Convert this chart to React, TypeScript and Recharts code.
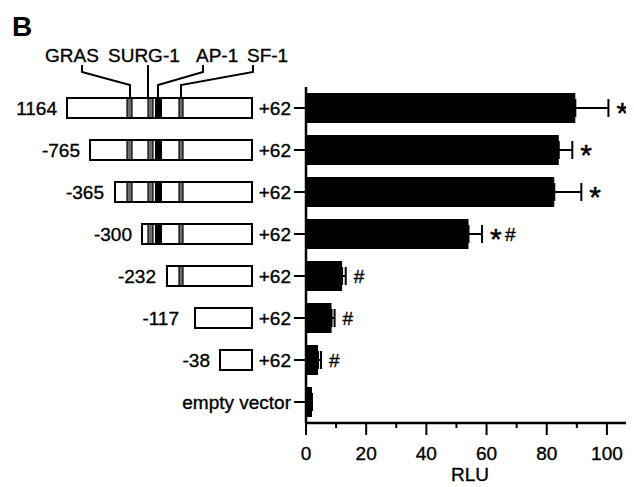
import { BarChart, Bar, XAxis, YAxis, ErrorBar, LabelList } from 'recharts'

const constructs = ['1164', '-765', '-365', '-300', '-232', '-117', '-38', 'empty vector']
const rlu = [89.5, 84, 82.5, 54, 12, 8.5, 4, 2]
const rluErr = [11, 4.5, 9, 4.5, 1.2, 1, 1, 0]
const marks = ['*', '*', '*', '*#', '#', '#', '#', '']
const elements = ['GRAS', 'SURG-1', 'AP-1', 'SF-1']
const xTicks = [0, 10, 20, 30, 40, 50, 60, 70, 80, 90, 100]

// error bars are drawn one-sided (upper only), as in the figure
const data = constructs.map((name, i) => ({ name, rlu: rlu[i], err: [0, rluErr[i]], mark: marks[i] }))

const FONT = "'Liberation Sans', Arial, Helvetica, sans-serif"
const txt = { fontFamily: FONT, fontSize: 19, fill: '#000', stroke: '#000', strokeWidth: 0.35 }

// schematic geometry, px relative to the +62 end of each box
const boxLeft = [-185, -162, -137, -110, -85, -57, -32]
const labelGap = [10, 10, 11, 10, 11, 16, 10]
const site = { gras: [-125, -120], surg: [-104, -99], ap1: [-97, -90], sf1: [-73, -69] }
const calloutX = [[-170, -122], [-104, -104], [-49, -94], [1, -71]]
const elementTextX = [-207, -144, -56, -5]

function Stipple({ from, to, y, L }: any) {
  if (from < L) return null
  return (
    <g>
      <rect x={from} y={y - 9} width={to - from} height={18} fill="#6e6e6e" />
      <line x1={from} x2={from} y1={y - 9} y2={y + 9} stroke="#000" strokeWidth={1.2} />
      <line x1={to} x2={to} y1={y - 9} y2={y + 9} stroke="#000" strokeWidth={1.2} />
    </g>
  )
}

function ConstructTick({ x, y, payload, index }: any) {
  const name = payload.value
  if (name === 'empty vector') {
    return <text x={x} y={y} dy={7} textAnchor="end" {...txt}>{name}</text>
  }
  const R = x - 39
  const L = R + boxLeft[index]
  return (
    <g>
      <rect x={L} y={y - 10} width={R - L} height={20} fill="#fff" stroke="#000" strokeWidth={2} />
      <Stipple from={R + site.gras[0]} to={R + site.gras[1]} y={y} L={L} />
      <Stipple from={R + site.surg[0]} to={R + site.surg[1]} y={y} L={L} />
      {R + site.ap1[0] > L && (
        <rect x={R + site.ap1[0]} y={y - 9} width={site.ap1[1] - site.ap1[0]} height={18} fill="#000" />
      )}
      <Stipple from={R + site.sf1[0]} to={R + site.sf1[1]} y={y} L={L} />
      <text x={L - labelGap[index]} y={y} dy={7} textAnchor="end" {...txt}>{name}</text>
      <text x={x} y={y} dy={7} textAnchor="end" {...txt}>+62</text>
      {index === 0 && (
        <g>
          {elements.map((el, k) => (
            <text key={el} x={R + elementTextX[k]} y={y - 46} {...txt}>{el}</text>
          ))}
          {calloutX.map(([top, bottom], k) => (
            <polyline
              key={k}
              points={`${R + top},${y - 43} ${R + top},${y - 36} ${R + bottom},${y - 23} ${R + bottom},${y - 10}`}
              fill="none"
              stroke="#000"
              strokeWidth={2}
            />
          ))}
        </g>
      )}
    </g>
  )
}

function RluTick({ x, y, payload }: any) {
  const major = payload.value % 20 === 0
  return (
    <g>
      <line x1={x} x2={x} y1={y} y2={y + (major ? 12 : 5)} stroke="#000" strokeWidth={2} />
      {major && (
        <text x={x} y={y + 37} textAnchor="middle" {...txt}>
          {payload.value}
        </text>
      )}
    </g>
  )
}

function MarkLabel({ x, width, y, height, value, index }: any) {
  if (!value) return null
  const v = rlu[index]
  const end = x + (width * (v + rluErr[index])) / v
  const cy = y + height / 2
  let cx = end + 8
  return (
    <g>
      {value.split('').map((ch: string, k: number) => {
        const el =
          ch === '*' ? (
            <text key={k} x={cx} y={cy + 15} fontFamily={FONT} fontSize={30} fill="#000" stroke="#000" strokeWidth={0.5}>*</text>
          ) : (
            <text key={k} x={cx} y={cy + 7} {...txt}>#</text>
          )
        cx += ch === '*' ? 15 : 11
        return el
      })}
    </g>
  )
}

export default function App() {
  return (
    <div style={{ position: 'relative', width: 626, height: 479 }}>
      <div
        style={{
          position: 'absolute',
          left: 4,
          top: 5,
          fontFamily: FONT,
          fontWeight: 'bold',
          fontSize: 28,
          lineHeight: 1,
        }}
      >
        B
      </div>
      <BarChart
        width={626}
        height={479}
        data={data}
        layout="vertical"
        margin={{ top: 79, right: 0, bottom: 0, left: 0 }}
      >
        <XAxis
          type="number"
          domain={[0, 109]}
          ticks={xTicks}
          interval={0}
          tick={<RluTick />}
          tickLine={false}
          tickSize={0}
          tickMargin={0}
          axisLine={{ stroke: '#000', strokeWidth: 2.5 }}
          height={64}
          label={{ value: 'RLU', position: 'insideBottom', offset: 6, ...txt }}
        />
        <YAxis
          type="category"
          dataKey="name"
          width={298}
          interval={0}
          tick={<ConstructTick />}
          tickSize={12}
          tickMargin={3}
          tickLine={{ stroke: '#000', strokeWidth: 2 }}
          axisLine={{ stroke: '#000', strokeWidth: 2.5 }}
        />
        <Bar dataKey="rlu" fill="#000" barSize={30} isAnimationActive={false}>
          <ErrorBar dataKey="err" direction="x" width={9} stroke="#000" strokeWidth={2} />
          <LabelList dataKey="mark" content={<MarkLabel />} />
        </Bar>
      </BarChart>
    </div>
  )
}
